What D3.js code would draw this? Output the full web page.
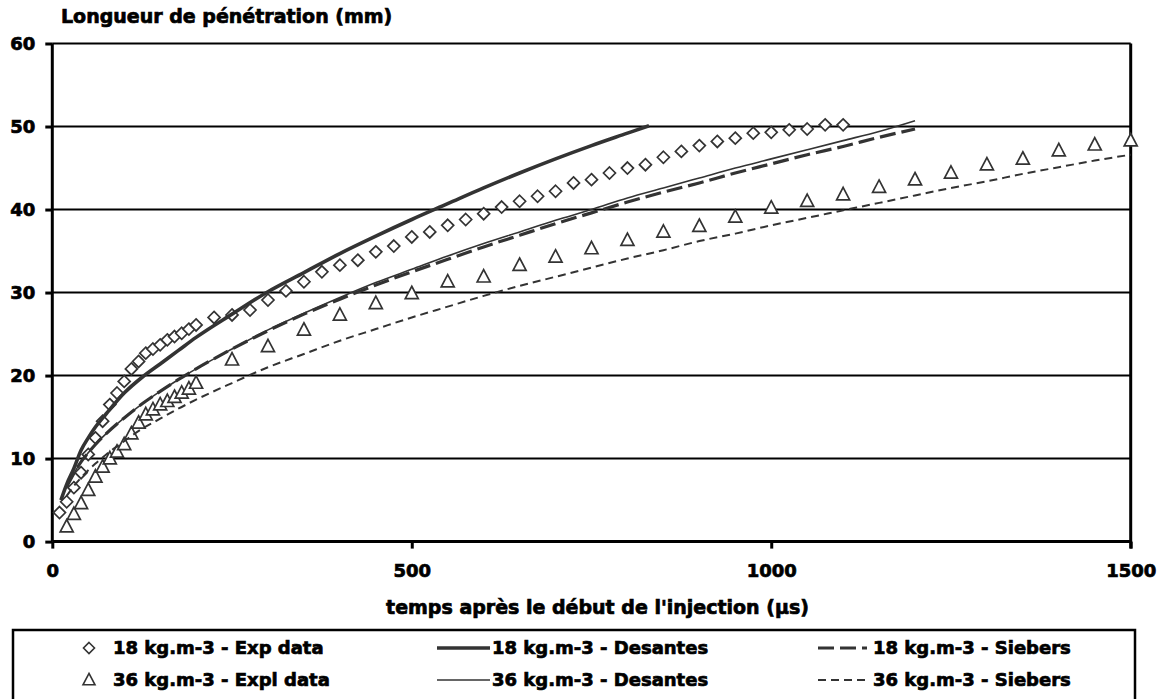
<!DOCTYPE html>
<html><head><meta charset="utf-8">
<script src="https://cdn.jsdelivr.net/npm/d3@7"></script>
<style>
html,body{margin:0;padding:0;background:#fff;}
svg{display:block;}
text{font-family:"DejaVu Sans",sans-serif;font-weight:bold;fill:#000;stroke:#000;stroke-width:0.7px;}
</style>
</head><body>
<svg id="chart" width="1166" height="699"></svg>
<script>
// ---- data ----
const xTicks = [0, 500, 1000, 1500];
const yTicks = [0, 10, 20, 30, 40, 50, 60];

const exp18T = [10,20,30,40,50,60,70,80,90,100,110,120,130,140,150,160,170,180,190,200,
  225,250,275,300,325,350,375,400,425,450,475,500,525,550,575,600,625,650,675,700,
  725,750,775,800,825,850,875,900,925,950,975,1000,1025,1050,1075,1100];
const exp18L = [3.5,4.8,6.5,8.3,10.5,12.5,14.5,16.5,17.9,19.3,20.8,21.7,22.7,23.2,23.7,24.3,24.7,25.1,25.6,26.1,
  27.0,27.3,27.9,29.1,30.2,31.3,32.5,33.3,33.9,34.9,35.6,36.7,37.3,38.1,38.8,39.5,40.3,41.0,41.6,42.2,
  43.2,43.6,44.4,45.0,45.4,46.3,47.0,47.7,48.2,48.6,49.2,49.3,49.6,49.7,50.2,50.2];

const exp36T = [20,30,40,50,60,70,80,90,100,110,120,130,140,150,160,170,180,190,200,
  250,300,350,400,450,500,550,600,650,700,750,800,850,900,950,1000,1050,1100,1150,1200,1250,1300,1350,1400,1450,1500];
const exp36L = [1.8,3.3,4.6,6.2,7.8,9.0,10.0,10.8,11.7,13.0,14.3,15.3,15.9,16.5,16.9,17.4,17.9,18.4,19.1,
  21.9,23.5,25.5,27.3,28.7,29.9,31.3,31.9,33.3,34.3,35.3,36.3,37.3,38.0,39.1,40.2,41.0,41.8,42.7,43.6,44.4,45.4,46.1,47.1,47.8,48.3];

const des18T = [12,20,30,40,50,60,75,100,125,150,175,200,250,300,350,400,450,500,550,600,650,700,750,800,830];
const des18L = [5.0,6.9,8.8,11.0,12.5,13.8,15.4,17.9,19.8,21.4,23.0,24.6,27.4,30.1,32.4,34.7,36.8,38.8,40.7,42.6,44.4,46.1,47.7,49.2,50.1];

const des36T = [20,30,40,50,60,75,100,125,150,175,200,250,300,350,400,450,500,550,600,650,700,750,800,850,900,950,1000,1050,1100,1150,1200];
const des36L = [6.6,8.2,9.6,10.7,11.7,13.0,14.9,16.6,18.1,19.5,20.8,23.2,25.5,27.5,29.4,31.2,32.8,34.4,35.9,37.3,38.7,40.0,41.4,42.6,43.8,45.0,46.1,47.2,48.3,49.4,50.7];

const sie18T = [20,30,40,50,60,75,100,125,150,175,200,250,300,350,400,450,500,550,600,650,700,750,800,850,900,950,1000,1050,1100,1150,1200];
const sie18L = [6.6,8.2,9.6,10.7,11.7,13.0,14.9,16.6,18.1,19.5,20.8,23.2,25.4,27.4,29.2,30.9,32.5,34.0,35.5,36.9,38.3,39.6,40.9,42.1,43.2,44.4,45.5,46.6,47.6,48.7,49.7];

const sie36T = [20,30,40,50,60,75,100,125,150,175,200,250,300,350,400,450,500,550,600,650,700,750,800,850,900,950,1000,1050,1100,1150,1200,1250,1300,1350,1400,1450,1500];
const sie36L = [5.5,6.7,7.7,8.6,9.4,10.5,12.1,13.6,14.8,16.0,17.1,19.1,21.0,22.6,24.2,25.6,27.0,28.3,29.6,30.8,31.9,33.0,34.1,35.1,36.2,37.1,38.1,39.0,39.9,40.8,41.7,42.6,43.4,44.3,45.1,45.9,46.6];

const yTitle = "Longueur de pénétration (mm)";
const xTitle = "temps après le début de l'injection (µs)";
const legendLabels = ["18 kg.m-3  - Exp data", "18 kg.m-3  - Desantes", "18 kg.m-3  - Siebers",
                      "36 kg.m-3  - Expl data", "36 kg.m-3  - Desantes", "36 kg.m-3  - Siebers"];

// ---- drawing ----
const svg = d3.select("#chart");
const X0 = 52.3, X1 = 1130.7, Y0 = 541.6, Y1 = 43.5;
const x = d3.scaleLinear().domain([0, 1500]).range([X0, X1]);
const y = d3.scaleLinear().domain([0, 60]).range([Y0, Y1]);
const ink = "#333";

const zip = (T, L) => T.map((t, i) => [t, L[i]]);

// gridlines
svg.append("g").selectAll("line").data(yTicks.filter(v => v > 0)).join("line")
  .attr("x1", X0).attr("x2", X1).attr("y1", d => y(d)).attr("y2", d => y(d))
  .attr("stroke", "#000").attr("stroke-width", 2);

// right border
svg.append("line").attr("x1", X1).attr("x2", X1).attr("y1", Y1).attr("y2", Y0 + 7)
  .attr("stroke", "#000").attr("stroke-width", 3);

// axes
const yAxis = svg.append("g").attr("transform", `translate(${X0},0)`)
  .call(d3.axisLeft(y).tickValues(yTicks).tickSize(7).tickPadding(10).tickFormat(d3.format("d")));
const xAxis = svg.append("g").attr("transform", `translate(0,${Y0})`)
  .call(d3.axisBottom(x).tickValues(xTicks).tickSize(7).tickPadding(16).tickFormat(d3.format("d")));
[yAxis, xAxis].forEach(a => {
  a.select(".domain").attr("stroke", "#000").attr("stroke-width", 3);
  a.selectAll(".tick line").attr("stroke", "#000").attr("stroke-width", 3);
  a.selectAll(".tick text").style("font-size", "18px").attr("fill", "#000");
});
yAxis.select(".domain").attr("d", `M0,${Y1}V${Y0}`);
xAxis.select(".domain").attr("d", `M${X0},0H${X1}`);

// marker paths
const diamondPath = (s) => `M0,${-s}L${s},0L0,${s}L${-s},0Z`;
const trianglePath = (w) => `M0,${-w*0.55}L${w/2},${w*0.4}L${-w/2},${w*0.4}Z`;

const line = d3.line().x(d => x(d[0])).y(d => y(d[1])).curve(d3.curveMonotoneX);

function drawMarkers(data, path) {
  svg.append("g").selectAll("path").data(data).join("path")
    .attr("transform", d => `translate(${x(d[0])},${y(d[1])})`)
    .attr("d", path).attr("fill", "#fff").attr("stroke", ink).attr("stroke-width", 1.7);
}
function drawLine(data, w, dash) {
  svg.append("path").datum(data).attr("d", line).attr("fill", "none")
    .attr("stroke", ink).attr("stroke-width", w)
    .attr("stroke-dasharray", dash || null);
}

drawMarkers(zip(exp18T, exp18L), diamondPath(6));
drawLine(zip(des18T, des18L), 3.6);
drawLine(zip(sie18T, sie18L), 3.2, "16,6");
drawMarkers(zip(exp36T, exp36L), trianglePath(13));
drawLine(zip(des36T, des36L), 1.6);
drawLine(zip(sie36T, sie36L), 2, "8,5");

// titles
svg.append("text").attr("x", 61).attr("y", 23).style("font-size", "19px").text(yTitle);
svg.append("text").attr("x", (X0 + X1) / 2 + 6).attr("y", 614).attr("text-anchor", "middle")
  .style("font-size", "19px").text(xTitle);

// legend
svg.append("rect").attr("x", 13).attr("y", 630).attr("width", 1122).attr("height", 90)
  .attr("fill", "none").attr("stroke", "#000").attr("stroke-width", 2.5);
const rows = [648, 680];
const cols = [{sym: 89, tx: 113}, {l0: 437, l1: 490, tx: 492}, {l0: 818, l1: 867, tx: 873}];
const kinds = [
  {type: "m", path: diamondPath(5.5)}, {type: "l", w: 3.6}, {type: "l", w: 3.2, dash: "16,6"},
  {type: "m", path: trianglePath(12)}, {type: "l", w: 1.6}, {type: "l", w: 2, dash: "8,5"}
];
kinds.forEach((k, i) => {
  const r = rows[Math.floor(i / 3)], c = cols[i % 3];
  if (k.type === "m") {
    svg.append("path").attr("transform", `translate(${c.sym},${r})`).attr("d", k.path)
      .attr("fill", "#fff").attr("stroke", ink).attr("stroke-width", 1.6);
  } else {
    svg.append("line").attr("x1", c.l0).attr("x2", c.l1).attr("y1", r).attr("y2", r)
      .attr("stroke", ink).attr("stroke-width", k.w).attr("stroke-dasharray", k.dash || null);
  }
  svg.append("text").attr("x", c.tx).attr("y", r).attr("dy", "0.35em")
    .style("font-size", "18px").text(legendLabels[i]);
});
</script>
</body></html>
